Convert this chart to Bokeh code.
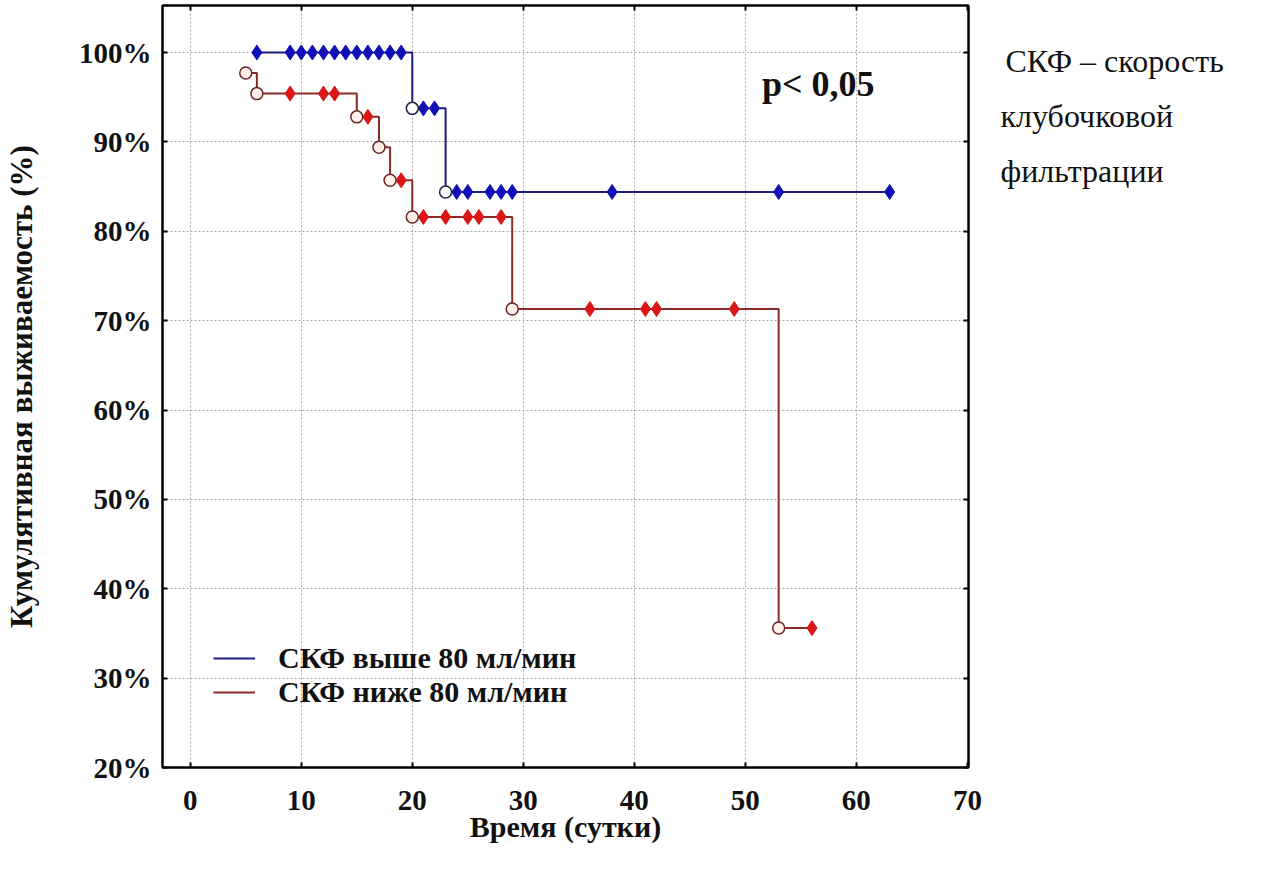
from bokeh.plotting import figure
from bokeh.layouts import row
from bokeh.models import (ColumnDataSource, Range1d, LinearAxis, Legend, LegendItem,
                          Label, FixedTicker)
from bokeh.embed import file_html
from bokeh.resources import INLINE
from bokeh.core.properties import value

# ---------------- data ----------------
# group 1: GFR above 80 ml/min
time_high = [6, 9, 10, 11, 12, 13, 14, 15, 16, 17, 18, 19, 20, 21, 22, 23, 24, 25, 27, 28, 29, 38, 53, 63]
surv_high = [100, 100, 100, 100, 100, 100, 100, 100, 100, 100, 100, 100,
             93.75, 93.75, 93.75, 84.4, 84.4, 84.4, 84.4, 84.4, 84.4, 84.4, 84.4, 84.4]
event_high = [0, 0, 0, 0, 0, 0, 0, 0, 0, 0, 0, 0, 1, 0, 0, 1, 0, 0, 0, 0, 0, 0, 0, 0]

# group 2: GFR below 80 ml/min
time_low = [5, 6, 9, 12, 13, 15, 16, 17, 18, 19, 20, 21, 23, 25, 26, 28, 29, 36, 41, 42, 49, 53, 56]
surv_low = [97.7, 95.4, 95.4, 95.4, 95.4, 92.8, 92.8, 89.4, 85.7, 85.7, 81.6, 81.6, 81.6, 81.6,
            81.6, 81.6, 71.3, 71.3, 71.3, 71.3, 71.3, 35.6, 35.6]
event_low = [1, 1, 0, 0, 0, 1, 0, 1, 1, 0, 1, 0, 0, 0, 0, 0, 1, 0, 0, 0, 0, 1, 0]

series_labels = ["СКФ выше 80 мл/мин", "СКФ ниже 80 мл/мин"]
x_ticks = [0, 10, 20, 30, 40, 50, 60, 70]
y_ticks = [20, 30, 40, 50, 60, 70, 80, 90, 100]
y_tick_labels = ["20%", "30%", "40%", "50%", "60%", "70%", "80%", "90%", "100%"]
x_title = "Время (сутки)"
y_title = "Кумулятивная выживаемость (%)"
p_text = "p< 0,05"
note_lines = ["СКФ – скорость", "клубочковой", "фильтрации"]

# ---------------- main figure ----------------
SERIF = "Liberation Serif"
p = figure(width=988, height=854, output_backend="svg", toolbar_location=None,
           x_range=Range1d(-2.5, 70.1), y_range=Range1d(20, 105.26),
           min_border_left=162, min_border_right=20, min_border_top=5, min_border_bottom=87,
           background_fill_color="white", border_fill_color="white")
p.outline_line_color = "black"
p.outline_line_width = 2

top_ax = LinearAxis(ticker=FixedTicker(ticks=x_ticks))
right_ax = LinearAxis(ticker=FixedTicker(ticks=y_ticks))
p.add_layout(top_ax, "above")
p.add_layout(right_ax, "right")
bottom_ax = p.below[0]
left_ax = p.left[0]
bottom_ax.ticker = FixedTicker(ticks=x_ticks)
left_ax.ticker = FixedTicker(ticks=y_ticks)
left_ax.major_label_overrides = {t: l for t, l in zip(y_ticks, y_tick_labels)}

for ax in (top_ax, right_ax, bottom_ax, left_ax):
    ax.major_tick_in = 5
    ax.major_tick_out = 0
    ax.major_tick_line_width = 2
    ax.major_tick_line_color = "black"
    ax.minor_tick_line_color = None
    ax.axis_line_color = "black"
    ax.axis_line_width = 2
    ax.major_label_text_font = SERIF
    ax.major_label_text_font_style = "bold"
    ax.major_label_text_font_size = "29px"
    ax.major_label_text_color = "#111111"

# the top and right axes only carry inside ticks
top_ax.major_label_overrides = {t: "" for t in x_ticks}
right_ax.major_label_overrides = {t: "" for t in y_ticks}
for ax in (top_ax, right_ax):
    ax.major_label_standoff = 0

bottom_ax.major_label_standoff = 23
left_ax.major_label_standoff = 11
bottom_ax.axis_label = x_title
left_ax.axis_label = y_title
for ax in (bottom_ax, left_ax):
    ax.axis_label_text_font = SERIF
    ax.axis_label_text_font_style = "bold"
    ax.axis_label_text_color = "#111111"
bottom_ax.axis_label_text_font_size = "30px"
left_ax.axis_label_text_font_size = "31px"
bottom_ax.axis_label_standoff = -3
left_ax.axis_label_standoff = 37

p.xgrid.ticker = FixedTicker(ticks=x_ticks)
p.ygrid.ticker = FixedTicker(ticks=y_ticks)
for g in (p.xgrid, p.ygrid):
    g.grid_line_color = "#a8a8a8"
    g.grid_line_dash = "2 2"
    g.grid_line_width = 1

# ---------------- data marks ----------------
line_cols = ["#1c1c82", "#8c2a2a"]
mark_cols = ["#1010b8", "#dc1616"]
circ_fill = ["#ffffff", "#fff0ea"]
circ_line = ["#20204a", "#6e2424"]

renderers = []
for i, (t, s, e) in enumerate([(time_high, surv_high, event_high),
                               (time_low, surv_low, event_low)]):
    src = ColumnDataSource(dict(t=t, s=s))
    r = p.step("t", "s", source=src, mode="after", line_color=line_cols[i], line_width=2)
    renderers.append(r)
    cens = ColumnDataSource(dict(t=[a for a, f in zip(t, e) if f == 0],
                                 s=[b for b, f in zip(s, e) if f == 0]))
    evs = ColumnDataSource(dict(t=[a for a, f in zip(t, e) if f == 1],
                                s=[b for b, f in zip(s, e) if f == 1]))
    p.scatter("t", "s", source=cens, marker="diamond", size=15,
              fill_color=mark_cols[i], line_color=mark_cols[i], line_width=1)
    p.scatter("t", "s", source=evs, marker="circle", size=12,
              fill_color=circ_fill[i], line_color=circ_line[i], line_width=1.5)

legend = Legend(items=[LegendItem(label=series_labels[i], renderers=[renderers[i]]) for i in range(2)],
                location=(51, 58))
legend.label_text_font = SERIF
legend.label_text_font_style = "bold"
legend.label_text_font_size = "30px"
legend.label_text_color = "#111111"
legend.glyph_width = 42
legend.label_standoff = 23
legend.padding = 0
legend.margin = 0
legend.spacing = -2
legend.border_line_alpha = 0
legend.background_fill_alpha = 0
p.add_layout(legend)

p.add_layout(Label(x=51.5, y=96.5, text=p_text, text_font=SERIF, text_font_style="bold",
                   text_font_size="36px", text_baseline="middle", text_color="#111111"))

# ---------------- side note (separate text panel) ----------------
q = figure(width=257, height=854, output_backend="svg", toolbar_location=None,
           x_range=Range1d(0, 257), y_range=Range1d(854, 0),
           x_axis_type=None, y_axis_type=None,
           min_border=0, outline_line_color=None, background_fill_color="white",
           border_fill_color="white")
q.grid.visible = False
note_x = [17, 12, 12]
note_y = [62, 124, 185]
q.text(x=note_x, y=note_y, text=note_lines, text_font=value(SERIF), text_font_size="32px",
       text_baseline="middle", text_align="left", text_color="#111111")

layout = row(p, q, spacing=0)
open("out.html", "w").write(file_html(layout, INLINE))
